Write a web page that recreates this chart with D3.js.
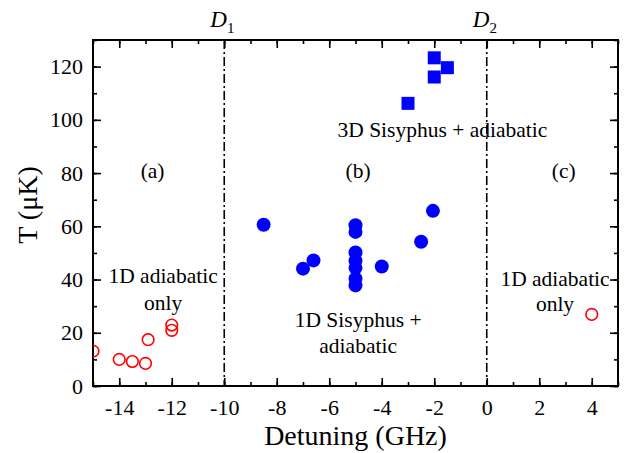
<!DOCTYPE html>
<html>
<head>
<meta charset="utf-8">
<script src="https://cdn.jsdelivr.net/npm/d3@7"></script>
<style>
  body { margin: 0; background: #fff; }
</style>
</head>
<body>
<svg id="chart" width="626" height="453"></svg>
<script>
// 1D adiabatic only (open red circles)
var adiabaticX = [-15, -14, -13.5, -13, -12.9, -12, -12, 4];
var adiabaticY = [13.1, 10.0, 9.2, 8.5, 17.4, 20.9, 22.9, 26.9];

// 1D Sisyphus + adiabatic (filled blue circles)
var sisyphus1DX = [-8.5, -7, -6.6, -5, -5, -5, -5, -5, -5, -5, -4, -2.5, -2.05];
var sisyphus1DY = [60.6, 44.1, 47.2, 60.4, 57.9, 50.2, 47.1, 44.4, 40.3, 37.8, 44.9, 54.2, 65.8];

// 3D Sisyphus + adiabatic (filled blue squares)
var sisyphus3DX = [-3, -2, -2, -1.5];
var sisyphus3DY = [106.2, 123.3, 116.1, 119.6];

// resonance lines
var resonanceX = [-10, 0];
var resonanceNames = ["1", "2"];

var xTicks = [-14, -12, -10, -8, -6, -4, -2, 0, 2, 4];
var yTicks = [0, 20, 40, 60, 80, 100, 120];

var serif = "Liberation Serif";

var margin = { top: 40, right: 8, bottom: 67, left: 93 };
var width = 626 - margin.left - margin.right;
var height = 453 - margin.top - margin.bottom;

var svg = d3.select("#chart")
  .append("g")
  .attr("transform", "translate(" + margin.left + "," + margin.top + ")");

var x = d3.scaleLinear().domain([-15, 5]).range([0, width]);
var y = d3.scaleLinear().domain([0, 130]).range([height, 0]);

svg.append("clipPath").attr("id", "clip")
  .append("rect").attr("width", width).attr("height", height);

// inward ticks: major + minor on all four sides
function ticks(axisFn, scale, values, size, labels) {
  return axisFn(scale).tickValues(values).tickSizeInner(-size).tickSizeOuter(0)
    .tickFormat(labels ? function(d) { return String(d); } : "");
}
var xMinor = d3.range(-15, 5.01, 1);
var yMinor = d3.range(0, 130.01, 10);

function styleAxis(g) {
  g.attr("font-family", serif).attr("font-size", 22);
  g.select(".domain").remove();
  g.selectAll(".tick line").attr("stroke", "#000").attr("stroke-width", 1.6);
  g.selectAll(".tick text").attr("fill", "#000");
}

svg.append("g").attr("transform", "translate(0," + height + ")")
  .call(ticks(d3.axisBottom, x, xMinor, 4, false)).call(styleAxis);
svg.append("g").attr("transform", "translate(0," + height + ")")
  .call(ticks(d3.axisBottom, x, xTicks, 8, true).tickPadding(13)).call(styleAxis);
svg.append("g")
  .call(ticks(d3.axisTop, x, xMinor, 4, false)).call(styleAxis);
svg.append("g")
  .call(ticks(d3.axisTop, x, xTicks, 8, false)).call(styleAxis);

svg.append("g")
  .call(ticks(d3.axisLeft, y, yMinor, 4, false)).call(styleAxis);
svg.append("g")
  .call(ticks(d3.axisLeft, y, yTicks, 8, true).tickPadding(10)).call(styleAxis);
svg.append("g").attr("transform", "translate(" + width + ",0)")
  .call(ticks(d3.axisRight, y, yMinor, 4, false)).call(styleAxis);
svg.append("g").attr("transform", "translate(" + width + ",0)")
  .call(ticks(d3.axisRight, y, yTicks, 8, false)).call(styleAxis);

// frame
svg.append("rect")
  .attr("width", width).attr("height", height)
  .attr("fill", "none").attr("stroke", "#000").attr("stroke-width", 2);

// dash-dot resonance lines and their labels
svg.selectAll(".res")
  .data(resonanceX)
  .enter().append("line")
  .attr("x1", function(d) { return x(d); })
  .attr("x2", function(d) { return x(d); })
  .attr("y1", 0).attr("y2", height)
  .attr("stroke", "#000").attr("stroke-width", 1.6)
  .attr("stroke-dasharray", "9,3,2,3");

var resLabel = svg.selectAll(".resLabel")
  .data(resonanceX)
  .enter().append("text")
  .attr("x", function(d) { return x(d) - 14; })
  .attr("y", -13)
  .attr("font-family", serif)
  .attr("font-size", 23)
  .attr("font-style", "italic");
resLabel.append("tspan").text("D");
resLabel.append("tspan")
  .attr("font-size", 15).attr("font-style", "normal").attr("dy", 6)
  .text(function(d, i) { return resonanceNames[i]; });

var plot = svg.append("g").attr("clip-path", "url(#clip)");

plot.selectAll(".open")
  .data(adiabaticX)
  .enter().append("circle")
  .attr("cx", function(d) { return x(d); })
  .attr("cy", function(d, i) { return y(adiabaticY[i]); })
  .attr("r", 5.8)
  .attr("fill", "none")
  .attr("stroke", "#ff0000")
  .attr("stroke-width", 1.6);

plot.selectAll(".dot")
  .data(sisyphus1DX)
  .enter().append("circle")
  .attr("cx", function(d) { return x(d); })
  .attr("cy", function(d, i) { return y(sisyphus1DY[i]); })
  .attr("r", 7)
  .attr("fill", "#0000ff");

plot.selectAll(".sq")
  .data(sisyphus3DX)
  .enter().append("rect")
  .attr("x", function(d) { return x(d) - 6.5; })
  .attr("y", function(d, i) { return y(sisyphus3DY[i]) - 6.5; })
  .attr("width", 13).attr("height", 13)
  .attr("fill", "#0000ff");

// annotations
var notes = [
  { t: "(a)", gx: -12.73, gy: 78.3 },
  { t: "(b)", gx: -4.9, gy: 78.3 },
  { t: "(c)", gx: 2.93, gy: 78.3 },
  { t: "3D Sisyphus + adiabatic", gx: -1.69, gy: 93.6 },
  { t: "1D adiabatic", gx: -12.33, gy: 38.8 },
  { t: "only", gx: -12.33, gy: 28.7 },
  { t: "1D Sisyphus +", gx: -4.9, gy: 22 },
  { t: "adiabatic", gx: -4.9, gy: 12.3 },
  { t: "1D adiabatic", gx: 2.6, gy: 37.5 },
  { t: "only", gx: 2.6, gy: 28.3 }
];
svg.selectAll(".note")
  .data(notes)
  .enter().append("text")
  .attr("x", function(d) { return x(d.gx); })
  .attr("y", function(d) { return y(d.gy); })
  .attr("text-anchor", "middle")
  .attr("font-family", serif)
  .attr("font-size", 21.5)
  .text(function(d) { return d.t; });

// axis titles
svg.append("text")
  .attr("x", width / 2)
  .attr("y", height + 59)
  .attr("text-anchor", "middle")
  .attr("font-family", serif)
  .attr("font-size", 28)
  .text("Detuning (GHz)");

svg.append("text")
  .attr("transform", "translate(-56," + (height / 2 - 8) + ") rotate(-90)")
  .attr("text-anchor", "middle")
  .attr("font-family", serif)
  .attr("font-size", 28)
  .text("T (μK)");
</script>
</body>
</html>
